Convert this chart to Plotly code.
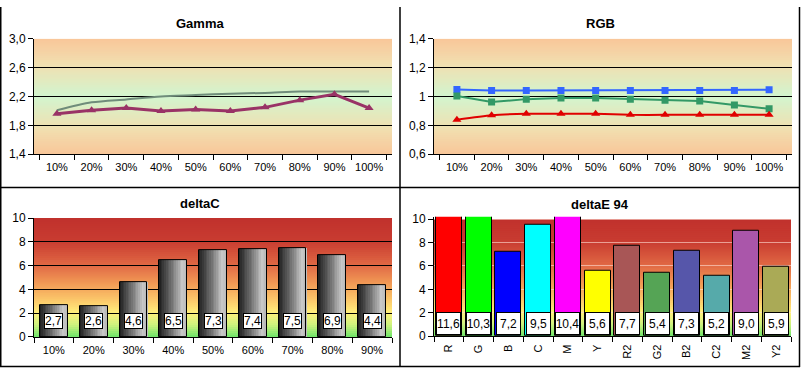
import plotly.graph_objects as go

W, H = 801, 375

# ---------------- data ----------------
pct10 = ['10%', '20%', '30%', '40%', '50%', '60%', '70%', '80%', '90%', '100%']
gamma_target = [2.01, 2.12, 2.16, 2.20, 2.22, 2.24, 2.25, 2.27, 2.27, 2.27]
gamma_measured = [1.96, 2.01, 2.04, 2.00, 2.02, 2.00, 2.05, 2.15, 2.23, 2.04]
gamma_tickvals = [1.4, 1.8, 2.2, 2.6, 3.0]
gamma_ticktext = ['1,4', '1,8', '2,2', '2,6', '3,0']

rgb_blue = [1.049, 1.042, 1.042, 1.042, 1.042, 1.042, 1.042, 1.042, 1.042, 1.047]
rgb_green = [1.004, 0.962, 0.982, 0.989, 0.989, 0.982, 0.975, 0.969, 0.942, 0.915]
rgb_red = [0.840, 0.871, 0.880, 0.880, 0.880, 0.873, 0.873, 0.873, 0.874, 0.873]
rgb_tickvals = [0.6, 0.8, 1.0, 1.2, 1.4]
rgb_ticktext = ['0,6', '0,8', '1', '1,2', '1,4']

dc_cats = ['10%', '20%', '30%', '40%', '50%', '60%', '70%', '80%', '90%']
dc_vals = [2.7, 2.6, 4.6, 6.5, 7.3, 7.4, 7.5, 6.9, 4.4]

de_cats = ['R', 'G', 'B', 'C', 'M', 'Y', 'R2', 'G2', 'B2', 'C2', 'M2', 'Y2']
de_vals = [11.6, 10.3, 7.2, 9.5, 10.4, 5.6, 7.7, 5.4, 7.3, 5.2, 9.0, 5.9]
de_colors = ['#FF0000', '#00FF00', '#0000FF', '#00FFFF', '#FF00FF', '#FFFF00',
             '#A85656', '#55A455', '#5656AA', '#56AAAA', '#AA56AA', '#AAAA56']

delta_tickvals = [0, 2, 4, 6, 8, 10]
delta_ticktext = ['0', '2', '4', '6', '8', '10']


def fmt(v):
    return f"{v:.1f}".replace('.', ',')


# ---------------- helpers ----------------
def hex2rgb(h):
    h = h.lstrip('#')
    return tuple(int(h[i:i + 2], 16) for i in (0, 2, 4))


def interp(stops, t):
    for (t0, c0), (t1, c1) in zip(stops[:-1], stops[1:]):
        if t0 <= t <= t1:
            f = 0 if t1 == t0 else (t - t0) / (t1 - t0)
            a, b = hex2rgb(c0), hex2rgb(c1)
            return 'rgb(%d,%d,%d)' % tuple(round(a[i] + (b[i] - a[i]) * f) for i in range(3))
    return stops[-1][1]


def xd(a, b):
    return [a / W, b / W]


def yd(top, bottom):
    return [1 - bottom / H, 1 - top / H]


FONT = 'Liberation Sans, Arial, sans-serif'

fig = go.Figure()

# ---------- Gamma ----------
fig.add_trace(go.Scatter(x=pct10, y=gamma_target, mode='lines',
                         line=dict(color='#6F8C7A', width=2, shape='spline', smoothing=0.8),
                         xaxis='x', yaxis='y'))
fig.add_trace(go.Scatter(x=pct10, y=gamma_measured, mode='lines+markers',
                         line=dict(color='#993366', width=3),
                         marker=dict(symbol='triangle-up', size=8, color='#993366'),
                         xaxis='x', yaxis='y'))

# ---------- RGB ----------
fig.add_trace(go.Scatter(x=pct10, y=rgb_blue, mode='lines+markers',
                         line=dict(color='#3366FF', width=2),
                         marker=dict(symbol='square', size=7, color='#3366FF'),
                         xaxis='x2', yaxis='y2'))
fig.add_trace(go.Scatter(x=pct10, y=rgb_green, mode='lines+markers',
                         line=dict(color='#339966', width=2),
                         marker=dict(symbol='square', size=7, color='#339966'),
                         xaxis='x2', yaxis='y2'))
fig.add_trace(go.Scatter(x=pct10, y=rgb_red, mode='lines+markers',
                         line=dict(color='#E00000', width=2, shape='spline', smoothing=0.6),
                         marker=dict(symbol='triangle-up', size=8, color='#E00000'),
                         xaxis='x2', yaxis='y2'))

# ---------- deltaC (gradient bars via slices) ----------
BW = 0.7
N = 16
step = BW / N
gray_stops = [(0.0, '#1C1C1C'), (0.5, '#7A7A7A'), (0.85, '#C8C8C8'), (1.0, '#B8B8B8')]
for i in range(N):
    t = (i + 0.5) / N
    fig.add_trace(go.Bar(x=dc_cats, y=dc_vals, width=step * 1.08,
                         offset=-BW / 2 + i * step,
                         marker=dict(color=interp(gray_stops, t), line=dict(width=0)),
                         xaxis='x3', yaxis='y3'))
fig.add_trace(go.Bar(x=dc_cats, y=dc_vals, width=BW, offset=-BW / 2,
                     marker=dict(color='rgba(0,0,0,0)', line=dict(color='black', width=1)),
                     xaxis='x3', yaxis='y3'))

# ---------- deltaE 94 ----------
fig.add_trace(go.Bar(x=de_cats, y=de_vals, width=0.87,
                     marker=dict(color=de_colors, line=dict(color='black', width=1)),
                     xaxis='x4', yaxis='y4'))

# ---------------- axes ----------------
xtickfont = dict(family=FONT, size=11, color='black')
ytickfont = dict(family=FONT, size=12, color='black')


def xaxis(domain, anchor, angle=0):
    return dict(domain=domain, anchor=anchor, type='category', showline=True,
                linecolor='black', linewidth=1, ticks='outside', ticklen=5,
                tickcolor='black', tickson='boundaries', showgrid=False,
                tickfont=xtickfont, tickangle=angle, fixedrange=True,
                ticklabelstandoff=3)


def yaxis(domain, anchor, rng, tv, tt, grid='black'):
    return dict(domain=domain, anchor=anchor, range=rng, showline=True,
                linecolor='black', linewidth=1, ticks='outside', ticklen=5,
                tickcolor='black', showgrid=True, gridcolor=grid, gridwidth=1,
                zeroline=False, tickvals=tv, ticktext=tt, tickfont=ytickfont,
                fixedrange=True)


fig.update_layout(
    xaxis=xaxis(xd(34, 392), 'y'),
    yaxis=yaxis(yd(33, 153), 'x', [1.4, 3.0], gamma_tickvals, gamma_ticktext),
    xaxis2=xaxis(xd(434, 792), 'y2'),
    yaxis2=yaxis(yd(33, 153), 'x2', [0.6, 1.4], rgb_tickvals, rgb_ticktext),
    xaxis3=xaxis(xd(34, 392), 'y3'),
    yaxis3=yaxis(yd(219.3, 342.7), 'x3', [0, 10], delta_tickvals, delta_ticktext),
    xaxis4=xaxis(xd(434, 791), 'y4', angle=-90),
    yaxis4=yaxis(yd(217.9, 342), 'x4', [0, 10.2], delta_tickvals, delta_ticktext,
                 grid='rgba(255,225,215,0.6)'),
)

# ---------------- backgrounds ----------------
shapes = []
peach_stops = [(0.0, '#F9C699'), (0.22, '#F1DFB0'), (0.5, '#D2F5CF'),
               (0.78, '#F1DFB0'), (1.0, '#F9C699')]
heat_stops = [(0.0, '#6FE46A'), (0.1, '#CDF27E'), (0.2, '#FFF07C'), (0.3, '#FCCB6C'),
              (0.45, '#F19A56'), (0.6, '#E16A45'), (0.8, '#C93D31'), (1.0, '#C0302C')]
NS = 60
for xa, ya, lo, hi, stops in [('x', 'y', 1.4, 3.0, peach_stops),
                              ('x2', 'y2', 0.6, 1.4, peach_stops),
                              ('x3', 'y3', 0, 10, heat_stops),
                              ('x4', 'y4', 0, 10, heat_stops)]:
    for k in range(NS):
        t = (k + 0.5) / NS
        y0 = lo + (hi - lo) * k / NS
        y1 = min(hi, lo + (hi - lo) * (k + 2) / NS)
        shapes.append(dict(type='rect', xref=xa + ' domain', yref=ya, x0=0, x1=1,
                           y0=y0, y1=y1, layer='below',
                           line=dict(width=0), fillcolor=interp(stops, t)))

# frame lines
frame = dict(color='black', width=1.5)
for x0, y0, x1, y1 in [(0.75, 0, 0.75, 374), (799.5, 0, 799.5, 374), (0, 373.5, 800, 373.5),
                       (400, 0, 400, 374), (0, 187.5, 800, 187.5)]:
    shapes.append(dict(type='line', xref='paper', yref='paper',
                       x0=x0 / W, x1=x1 / W, y0=1 - y0 / H, y1=1 - y1 / H,
                       line=frame, layer='above'))

# ---------------- annotations ----------------
ann = []
titlefont = dict(family=FONT, size=13, color='black', weight='bold')
for txt, x, y in [('Gamma', 200, 17), ('RGB', 600, 17), ('deltaC', 200, 204), ('deltaE 94', 600, 205)]:
    ann.append(dict(text=txt, xref='paper', yref='paper', x=x / W, y=1 - y / H,
                    showarrow=False, font=titlefont, xanchor='center', yanchor='middle'))

for c, v in zip(dc_cats, dc_vals):
    ann.append(dict(text=fmt(v), xref='x3', yref='y3', x=c, y=1.34, showarrow=False,
                    bgcolor='white', bordercolor='black', borderwidth=1, borderpad=0,
                    width=17, height=14, font=dict(family=FONT, size=12, color='black')))
for c, v in zip(de_cats, de_vals):
    ann.append(dict(text=fmt(v), xref='x4', yref='y4', x=c, y=1.11, showarrow=False,
                    bgcolor='white', bordercolor='black', borderwidth=1, borderpad=0,
                    width=23, height=21, font=dict(family=FONT, size=12, color='black')))

fig.update_layout(
    width=W, height=H, margin=dict(l=0, r=0, t=0, b=0),
    paper_bgcolor='white', plot_bgcolor='white',
    showlegend=False, barmode='overlay', bargap=0,
    shapes=shapes, annotations=ann,
    font=dict(family=FONT, color='black'),
)

fig.write_html('out.html', config={'displayModeBar': False},
               post_script="document.body.style.margin='0';document.body.style.padding='0';"
                           "document.body.style.overflow='hidden';")
